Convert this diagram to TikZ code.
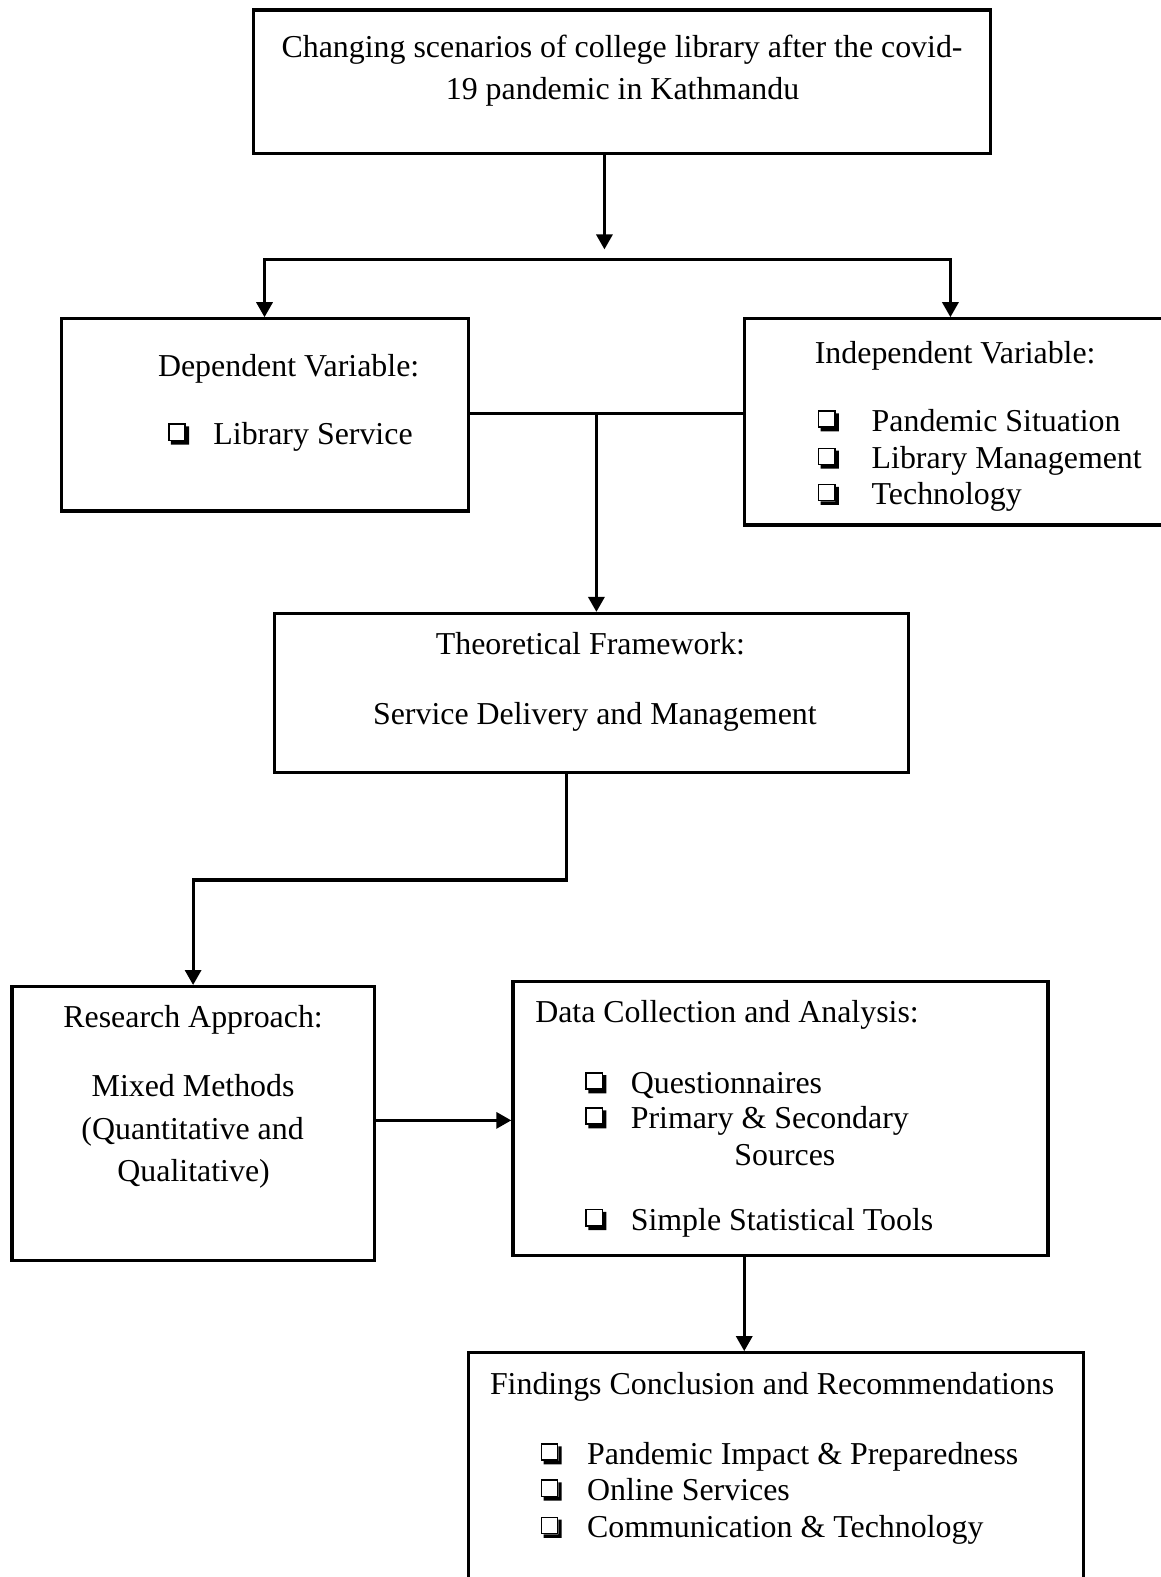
\documentclass[tikz,border=0pt]{standalone}
\usepackage{fontspec}
\setmainfont{Liberation Serif}
\usetikzlibrary{arrows.meta,fit}
\begin{document}
\begin{tikzpicture}[x=1.00607pt,y=-1.00607pt,
  box/.style={draw,line width=3.2pt,inner sep=0pt},
  txt/.style={font=\fontsize{31.9pt}{42pt}\selectfont,inner sep=0pt},
  conn/.style={line width=3.2pt,line cap=rect},
  arr/.style={conn,-{Triangle[width=16pt,length=15pt]}},
  cbox/.pic={
    \draw[line width=1.5pt] (0.8,-20.3) rectangle (17,-4.2);
    \fill (3,-3.5) -- (17.7,-3.5) -- (17.7,-18) -- (21,-18) -- (21,0) -- (3,0) -- cycle;
  }]
\useasboundingbox (0,0) rectangle (1154,1568);

% top box
\node[box,fit={(252,10)(985,153)}] (top) {};
\node[txt,anchor=base] (t1) at (618.5,57) {Changing scenarios of college library after the covid-};
\node[txt,anchor=base] (t2) at (619,99) {19 pandemic in Kathmandu};

% dependent
\node[box,fit={(61,317)(466,508)}] (dep) {};
\node[txt,anchor=base] (dept) at (287,374) {Dependent Variable:};
\pic at (167,442) {cbox};
\node[txt,anchor=base west] (dep1) at (212,442) {Library Service};

% independent
\node[box,fit={(740,317)(1156,522)}] (ind) {};
\node[txt,anchor=base west] (indt) at (810,361) {Independent Variable:};
\pic at (813,429) {cbox};
\node[txt,anchor=base west] (ind1) at (866.5,429) {Pandemic Situation};
\pic at (813,466) {cbox};
\node[txt,anchor=base west] (ind2) at (866.5,466) {Library Management};
\pic at (813,502) {cbox};
\node[txt,anchor=base west] (ind3) at (866.5,502) {Technology};

% theoretical
\node[box,fit={(273,610)(903,768)}] (theo) {};
\node[txt,anchor=base] (theot) at (587,651) {Theoretical Framework:};
\node[txt,anchor=base] (theo1) at (591.5,720) {Service Delivery and Management};

% research
\node[box,fit={(12,981)(372,1253)}] (res) {};
\node[txt,anchor=base] (rest) at (192,1022) {Research Approach:};
\node[txt,anchor=base] (res1) at (192,1090) {Mixed Methods};
\node[txt,anchor=base] (res2) at (191.5,1133) {(Quantitative and};
\node[txt,anchor=base] (res3) at (192.5,1175) {Qualitative)};

% data
\node[box,fit={(510,976)(1042,1248)}] (data) {};
\node[txt,anchor=base west] (datat) at (532,1017) {Data Collection and Analysis:};
\pic at (582,1087) {cbox};
\node[txt,anchor=base west] (data1) at (627,1087) {Questionnaires};
\pic at (582,1122) {cbox};
\node[txt,anchor=base west] (data2) at (627,1122) {Primary \& Secondary};
\node[txt,anchor=base west] (data3) at (730,1159) {Sources};
\pic at (582,1223) {cbox};
\node[txt,anchor=base west] (data4) at (627,1223) {Simple Statistical Tools};

% findings
\node[box,fit={(466,1345)(1077,1585)}] (find) {};
\node[txt,anchor=base west] (findt) at (487,1387) {Findings Conclusion and Recommendations};
\pic at (537.5,1456) {cbox};
\node[txt,anchor=base west] (find1) at (583.5,1456) {Pandemic Impact \& Preparedness};
\pic at (537.5,1492) {cbox};
\node[txt,anchor=base west] (find2) at (583.5,1492) {Online Services};
\pic at (537.5,1529) {cbox};
\node[txt,anchor=base west] (find3) at (583.5,1529) {Communication \& Technology};

% connectors
\coordinate (a1) at (601,248);
\draw[arr] (top.south -| a1) -- (a1);
\coordinate (bl) at (263,258);
\coordinate (br) at (945,258);
\draw[arr] (br) -- (bl) -- (dep.north -| bl);
\draw[arr] (br) -- (ind.north -| br);

\coordinate (m1) at (593,411);
\draw[conn] (dep.east |- m1) -- (ind.west |- m1);
\draw[arr] (m1) -- (theo.north -| m1);

\coordinate (k1) at (563,875);
\draw[arr] (theo.south -| k1) -- (k1) -| (res.north);

\coordinate (r1) at (0,1114);
\draw[arr] (res.east |- r1) -- (data.west |- r1);

\coordinate (d1) at (740,0);
\draw[arr] (data.south -| d1) -- (find.north -| d1);
\end{tikzpicture}
\end{document}
